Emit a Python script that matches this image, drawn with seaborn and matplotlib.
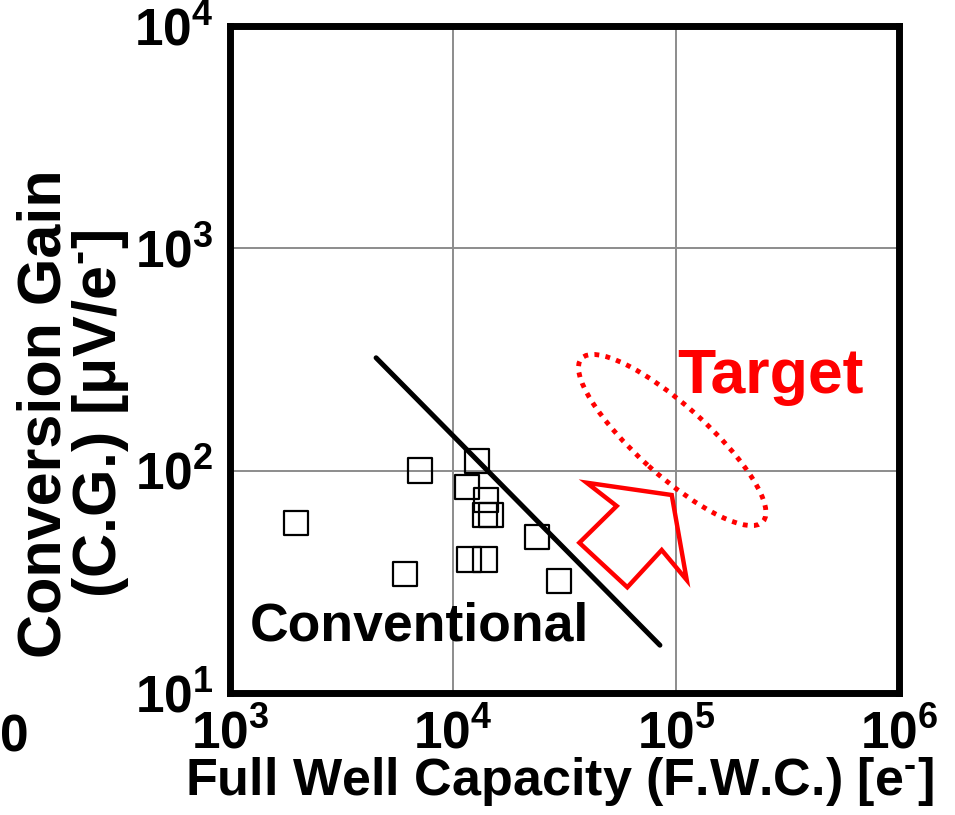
import numpy as np
import matplotlib
matplotlib.use("Agg")
import matplotlib.pyplot as plt
from matplotlib.patches import Ellipse, Polygon
from matplotlib.ticker import LogLocator, FuncFormatter, NullFormatter
import seaborn as sns

# reported sensors: full well capacity [e-] vs conversion gain [uV/e-]
fwc = [1970, 6090, 7110, 11600, 11800, 12800, 13900, 13900, 14060, 14800, 23800, 29900]
cg = [57.8, 34.4, 100, 84, 39.8, 110, 63, 39.8, 73.6, 63, 50.2, 31.8]

# "Conventional" trade-off line
trend_fwc = [4520, 84700]
trend_cg = [321, 16.4]

x_decades = [1e3, 1e4, 1e5, 1e6]
y_decades = [1e1, 1e2, 1e3, 1e4]

sns.set_style("white")
plt.rcParams["font.family"] = ["Liberation Sans", "DejaVu Sans"]
plt.rcParams["font.weight"] = "bold"
plt.rcParams["text.color"] = "black"
plt.rcParams["axes.labelcolor"] = "black"
plt.rcParams["xtick.color"] = "black"
plt.rcParams["ytick.color"] = "black"
plt.rcParams["mathtext.fontset"] = "custom"
plt.rcParams["mathtext.rm"] = "Liberation Sans:bold"
plt.rcParams["mathtext.bf"] = "Liberation Sans:bold"
plt.rcParams["mathtext.it"] = "Liberation Sans:bold:italic"

fig = plt.figure(figsize=(9.55, 8.15), dpi=100)
ax = fig.add_axes([230 / 955, 1 - 693 / 815, 669 / 955, 667.5 / 815])
ax.set_xscale("log")
ax.set_yscale("log")
ax.set_xlim(x_decades[0], x_decades[-1])
ax.set_ylim(y_decades[0], y_decades[-1])

ax.grid(True, which="major", color="#8c8c8c", lw=1.4)
ax.set_axisbelow(True)

sns.scatterplot(x=fwc, y=cg, marker="s", s=300, facecolor="none",
                edgecolor="black", linewidth=1.6, ax=ax, zorder=3)
sns.lineplot(x=trend_fwc, y=trend_cg, color="black", lw=3.6, ax=ax,
             zorder=4, sort=False)

# target region and arrow
ax.add_patch(Ellipse((0.661, 0.379), 0.365, 0.105, angle=-42,
                     transform=ax.transAxes, fill=False, ec="red", lw=3.5,
                     ls=(0, (1, 1.3)), zorder=5))
arrow_pts = [(0.5332, 0.3150), (0.6603, 0.2966), (0.6827, 0.1693),
             (0.6453, 0.2142), (0.5939, 0.1584), (0.5222, 0.2251),
             (0.5780, 0.2801)]
ax.add_patch(Polygon(arrow_pts, closed=True, fill=False, ec="red", lw=3.2,
                     joinstyle="miter", transform=ax.transAxes, zorder=5))

ax.text(0.668, 0.449, "Target", color="red", fontsize=45, fontweight="bold",
        transform=ax.transAxes, ha="left", va="baseline")
ax.text(0.030, 0.079, "Conventional", color="black", fontsize=38.5,
        fontweight="bold", transform=ax.transAxes, ha="left", va="baseline")

fmt = FuncFormatter(lambda v, p: r"$\mathbf{10^{%d}}$" % round(np.log10(v)))
for axis in (ax.xaxis, ax.yaxis):
    axis.set_major_locator(LogLocator(base=10, numticks=10))
    axis.set_minor_locator(LogLocator(base=10, subs=np.arange(2, 10), numticks=10))
    axis.set_major_formatter(fmt)
    axis.set_minor_formatter(NullFormatter())

ax.tick_params(which="both", direction="in", top=False, right=False)
ax.tick_params(which="major", length=8, width=4, labelsize=37)
ax.tick_params(which="minor", length=6, width=2.5)
ax.tick_params(axis="y", which="major", pad=12)
ax.tick_params(axis="x", which="major", pad=12)

for sp in ax.spines.values():
    sp.set_linewidth(5)
    sp.set_color("black")

ax.set_xlabel(r"Full Well Capacity (F.W.C.) [e$^{\text{-}}$]", fontsize=37.5,
              fontweight="bold")
ax.xaxis.set_label_coords(0.493, -0.093)
ax.set_ylabel("Conversion Gain\n(C.G.) [\u03bcV/e$^{\\text{-}}$]", fontsize=44,
              fontweight="bold", linespacing=0.92)
ax.yaxis.label.set(ha="center", va="center")
ax.yaxis.set_label_coords(-0.233, 0.418)

# clipped label of the neighbouring panel
fig.text(0.0, 1 - 752 / 815, "0", fontsize=37, fontweight="bold",
         ha="left", va="baseline")

fig.savefig("out.png", dpi=100)
